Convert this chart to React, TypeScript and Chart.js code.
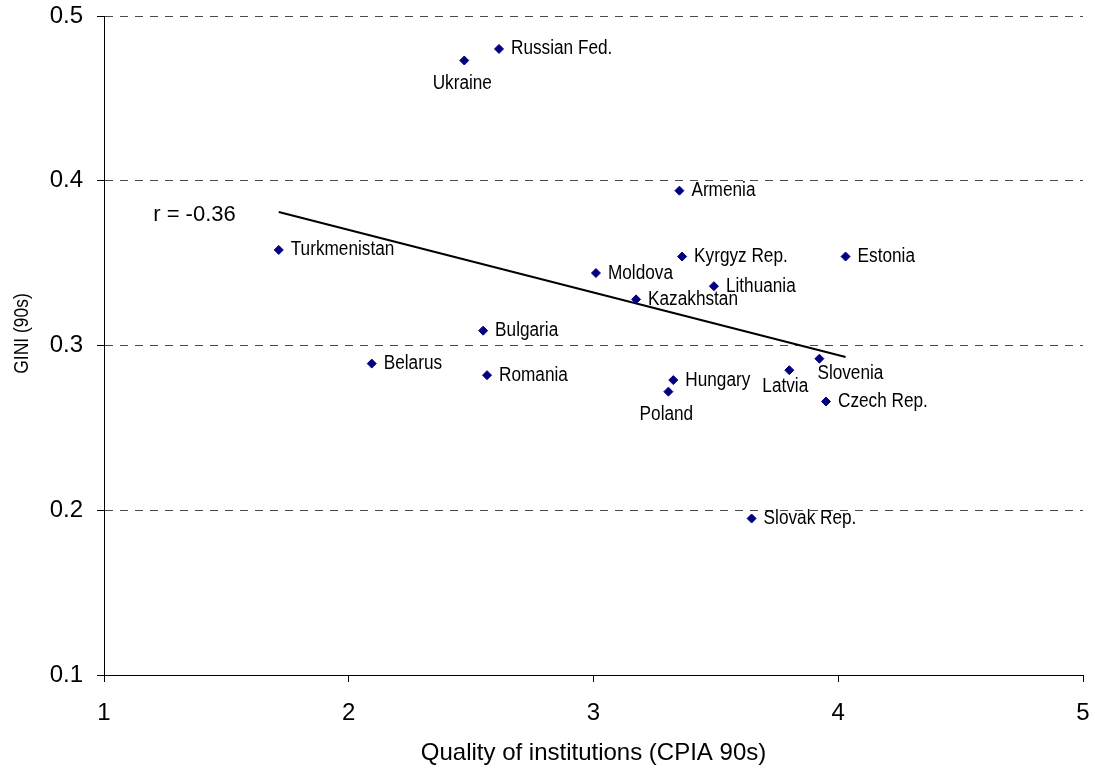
import React, { useEffect, useRef } from "react";
import { Chart, registerables } from "chart.js";

Chart.register(...registerables);

const countries = [
  "Russian Fed.", "Ukraine", "Armenia", "Turkmenistan", "Kyrgyz Rep.", "Estonia",
  "Moldova", "Lithuania", "Kazakhstan", "Bulgaria", "Belarus", "Romania",
  "Hungary", "Poland", "Latvia", "Slovenia", "Czech Rep.", "Slovak Rep.",
];
const cpia = [
  2.614, 2.472, 3.351, 1.714, 3.362, 4.030,
  3.010, 3.492, 3.174, 2.549, 2.094, 2.565,
  3.326, 3.306, 3.800, 3.923, 3.950, 3.646,
];
const gini = [
  0.480, 0.473, 0.394, 0.358, 0.354, 0.354,
  0.344, 0.336, 0.328, 0.309, 0.289, 0.282,
  0.279, 0.272, 0.285, 0.292, 0.266, 0.195,
];
const labelPlacement = [
  "right", "below", "right", "right", "right", "right",
  "right", "right", "right", "right", "right", "right",
  "right", "below", "belowLeft", "belowRight", "right", "right",
];
const trendX = [1.714, 4.030];
const trendY = [0.381, 0.293];
const correlationText = "r = -0.36";
const xTicks = [1, 2, 3, 4, 5];
const yTicks = [0.1, 0.2, 0.3, 0.4, 0.5];
const xTitle = "Quality of institutions (CPIA 90s)";
const yTitle = "GINI (90s)";

const placementStyle: Record<string, { dx: number; dy: number; align: CanvasTextAlign }> = {
  right: { dx: 12, dy: 0, align: "left" },
  below: { dx: -2, dy: 23, align: "center" },
  belowLeft: { dx: -4, dy: 16, align: "center" },
  belowRight: { dx: -2, dy: 15, align: "left" },
};

const NARROW = 0.86;

function condensedText(ctx: CanvasRenderingContext2D, text: string, x: number, y: number, align: CanvasTextAlign) {
  ctx.save();
  ctx.translate(x, y);
  ctx.scale(NARROW, 1);
  ctx.textAlign = align;
  ctx.fillText(text, 0, 0);
  ctx.restore();
}

const labelPlugin = {
  id: "pointLabels",
  afterDatasetsDraw(chart: any) {
    const ctx = chart.ctx as CanvasRenderingContext2D;
    const meta = chart.getDatasetMeta(0);
    ctx.save();
    ctx.fillStyle = "#000";
    ctx.font = '20px "Liberation Sans", Arial, sans-serif';
    ctx.textBaseline = "middle";
    meta.data.forEach((pt: any, i: number) => {
      const p = placementStyle[labelPlacement[i]];
      condensedText(ctx, countries[i], pt.x + p.dx, pt.y + p.dy, p.align);
    });
    const tmeta = chart.getDatasetMeta(1);
    const start = tmeta.data[0];
    if (start) {
      ctx.font = '22px "Liberation Sans", Arial, sans-serif';
      ctx.textAlign = "right";
      ctx.fillText(correlationText, start.x - 43, start.y + 3);
    }
    const area = chart.chartArea;
    ctx.save();
    ctx.font = '21px "Liberation Sans", Arial, sans-serif';
    ctx.translate(22, (area.top + area.bottom) / 2 - 12);
    ctx.rotate(-Math.PI / 2);
    ctx.scale(0.83, 1);
    ctx.textAlign = "center";
    ctx.textBaseline = "middle";
    ctx.fillText(yTitle, 0, 0);
    ctx.restore();
    ctx.restore();
  },
};

export default function App() {
  const ref = useRef<HTMLCanvasElement>(null);
  useEffect(() => {
    if (!ref.current) return;
    const chart = new Chart(ref.current, {
      type: "scatter",
      data: {
        datasets: [
          {
            data: cpia.map((x, i) => ({ x, y: gini[i] })),
            pointStyle: "rectRot",
            pointRadius: 4.5,
            pointBorderWidth: 1,
            backgroundColor: "#000080",
            borderColor: "#000080",
            showLine: false,
          },
          {
            data: trendX.map((x, i) => ({ x, y: trendY[i] })),
            showLine: true,
            borderColor: "#000",
            borderWidth: 2,
            pointRadius: 0,
          },
        ],
      },
      options: {
        responsive: false,
        animation: false,
        devicePixelRatio: 1,
        layout: { padding: { top: 16, right: 12, left: 0, bottom: 0 } },
        plugins: { legend: { display: false }, tooltip: { enabled: false } },
        scales: {
          x: {
            type: "linear",
            min: 1,
            max: 5,
            afterFit: (s: any) => {
              s.height = 98;
              s.paddingLeft = 0;
              s.paddingRight = 0;
            },
            afterBuildTicks: (s: any) => { s.ticks = xTicks.map((v) => ({ value: v })); },
            ticks: {
              color: "#000",
              padding: 17,
              font: { family: '"Liberation Sans", Arial, sans-serif', size: 24 },
              callback: (v: any) => String(v),
            },
            grid: { drawOnChartArea: false, drawTicks: true, tickLength: 7, tickColor: "#000" },
            border: { display: true, color: "#000", width: 1 },
            title: {
              display: true,
              text: xTitle,
              color: "#000",
              font: { family: '"Liberation Sans", Arial, sans-serif', size: 24 },
              padding: { top: 0, bottom: 5 },
            },
          },
          y: {
            type: "linear",
            min: 0.1,
            max: 0.5,
            afterFit: (s: any) => {
              s.width = 104;
              s.paddingTop = 0;
              s.paddingBottom = 0;
            },
            afterBuildTicks: (s: any) => { s.ticks = yTicks.map((v) => ({ value: v })); },
            ticks: {
              color: "#000",
              padding: 14,
              font: { family: '"Liberation Sans", Arial, sans-serif', size: 24 },
              callback: (v: any) => Number(v).toFixed(1),
            },
            grid: {
              color: (c: any) => (c.tick && c.tick.value <= 0.1001 ? "rgba(0,0,0,0)" : "#4a4a4a"),
              drawTicks: true,
              tickLength: 7,
              tickColor: "#000",
              tickBorderDash: [],
            },
            border: { display: true, color: "#000", width: 1, dash: [8, 7] },
            title: { display: false },
          },
        },
      },
      plugins: [labelPlugin],
    });
    return () => chart.destroy();
  }, []);
  return (
    <canvas
      ref={ref}
      width={1095}
      height={773}
      style={{ position: "absolute", left: 0, top: 0, display: "block", background: "#fff" }}
    />
  );
}
